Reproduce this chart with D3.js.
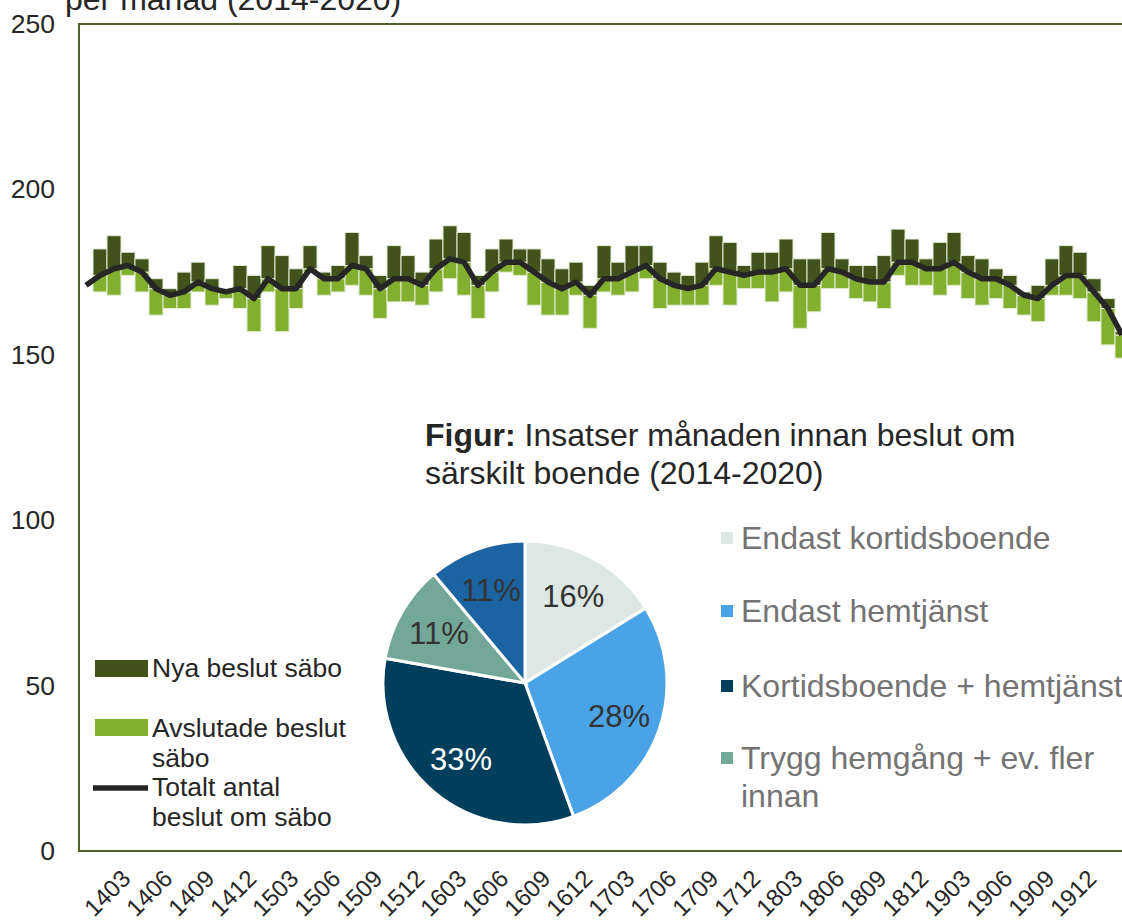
<!DOCTYPE html>
<html>
<head>
<meta charset="utf-8">
<script src="https://cdn.jsdelivr.net/npm/d3@7"></script>
<style>
  body { margin: 0; background: #fff; }
  svg { display: block; font-family: "Liberation Sans", Arial, sans-serif; }
</style>
</head>
<body>
<div id="chart"></div>
<script>
// months (yymm), first one only carries the line
const months = ["1312",
  "1401","1402","1403","1404","1405","1406","1407","1408","1409","1410","1411","1412",
  "1501","1502","1503","1504","1505","1506","1507","1508","1509","1510","1511","1512",
  "1601","1602","1603","1604","1605","1606","1607","1608","1609","1610","1611","1612",
  "1701","1702","1703","1704","1705","1706","1707","1708","1709","1710","1711","1712",
  "1801","1802","1803","1804","1805","1806","1807","1808","1809","1810","1811","1812",
  "1901","1902","1903","1904","1905","1906","1907","1908","1909","1910","1911","1912",
  "2001","2002"]

const tickLabels = ["1403","1406","1409","1412","1503","1506","1509","1512","1603","1606",
  "1609","1612","1703","1706","1709","1712","1803","1806","1809","1812","1903","1906","1909","1912"]

const totalt = [171,
  174,176,177,175,170,168,169,172,170,169,170,167,
  173,170,170,176,173,173,177,176,170,173,173,171,
  176,179,178,171,175,178,178,175,172,170,172,168,
  173,173,175,177,173,171,170,171,176,175,174,175,
  175,176,171,171,176,175,173,172,172,178,178,176,
  176,178,175,173,173,171,168,167,171,174,174,169,
  164,156]

const nyaBeslut = [0,
  8,10,4,4,3,2,6,6,3,1,7,7,
  10,10,6,7,2,4,10,4,4,10,7,4,
  9,10,9,3,7,7,4,7,7,6,6,3,
  10,5,8,6,5,4,4,7,10,9,3,6,
  6,9,8,8,11,4,4,5,8,10,7,3,
  8,9,5,6,3,3,1,4,8,9,7,4,
  3,1]

const avslutadeBeslut = [0,
  5,8,3,6,8,4,5,3,5,2,6,10,
  4,13,6,1,5,4,6,8,9,7,7,6,
  7,6,10,10,6,3,4,10,10,8,4,10,
  4,5,6,4,9,6,5,6,5,10,4,5,
  9,7,13,8,6,5,6,6,8,4,7,5,
  8,7,8,8,6,7,6,7,3,6,7,9,
  11,7]

const yTicks = [0, 50, 100, 150, 200, 250]

// pie
const pieLabels = ["Endast kortidsboende", "Endast hemtjänst", "Kortidsboende + hemtjänst",
  "Trygg hemgång + ev. fler innan", "Övrigt"]
const pieValues = [16, 28, 33, 11, 11]
const pieColors = ["#dde8e4", "#4aa3e6", "#003f5c", "#73a898", "#1c63a1"]

const W = 1122, H = 922
const plot = {left: 79, top: 24, bottom: 851}
const step = 14

const svg = d3.select("#chart").append("svg")
    .attr("width", W)
    .attr("height", H)

const x = d3.scaleBand()
    .domain(months)
    .range([plot.left, plot.left + step * months.length])
    .padding(0)

const y = d3.scaleLinear()
    .domain([0, 250])
    .range([plot.bottom, plot.top])

// title (first line falls outside the picture)
svg.append("text")
    .attr("x", 65)
    .attr("y", 10)
    .style("font-size", "32px")
    .attr("fill", "#262626")
    .text("per månad (2014-2020)")

// y axis labels
const yAxis = svg.append("g")
    .attr("transform", `translate(${plot.left},0)`)
    .call(d3.axisLeft(y).tickValues(yTicks).tickSize(0).tickPadding(24))
yAxis.select(".domain").remove()
yAxis.selectAll("text")
    .style("font-size", "26.5px")
    .style("font-family", "Liberation Sans, Arial, sans-serif")
    .attr("fill", "#262626")

// x axis labels
const xAxis = svg.append("g")
    .attr("transform", `translate(0,${plot.bottom})`)
    .call(d3.axisBottom(x).tickValues(tickLabels).tickSize(0))
xAxis.select(".domain").remove()
xAxis.selectAll("text")
    .attr("y", 0)
    .attr("dy", 0)
    .attr("text-anchor", "end")
    .attr("transform", "translate(4,29) rotate(-45)")
    .style("font-size", "24px")
    .style("font-family", "Liberation Sans, Arial, sans-serif")
    .attr("fill", "#262626")

const data = months.map((m, i) => ({
    month: m, total: totalt[i], nya: nyaBeslut[i], avsl: avslutadeBeslut[i]
})).filter(d => d.nya > 0 || d.avsl > 0)

// ended decisions (below the line)
svg.append("g").selectAll("rect")
    .data(data)
    .join("rect")
    .attr("x", d => x(d.month))
    .attr("width", x.bandwidth())
    .attr("y", d => y(d.total))
    .attr("height", d => y(d.total - d.avsl) - y(d.total))
    .attr("fill", "#82b02e")
    .attr("stroke", "#e3ecd6")
    .attr("stroke-width", 1)

// new decisions (above the line)
svg.append("g").selectAll("rect")
    .data(data)
    .join("rect")
    .attr("x", d => x(d.month))
    .attr("width", x.bandwidth())
    .attr("y", d => y(d.total + d.nya))
    .attr("height", d => y(d.total) - y(d.total + d.nya))
    .attr("fill", "#41521b")
    .attr("stroke", "#e3ecd6")
    .attr("stroke-width", 1)

// total line
svg.append("path")
    .datum(months.map((m, i) => ({month: m, total: totalt[i]})))
    .attr("fill", "none")
    .attr("stroke", "#262626")
    .attr("stroke-width", 5.5)
    .attr("stroke-linejoin", "round")
    .attr("d", d3.line()
        .x(d => x(d.month) + x.bandwidth() / 2)
        .y(d => y(d.total)))

// plot frame
svg.append("path")
    .attr("d", `M${W + 20},${plot.top}H${plot.left}V${plot.bottom}H${W + 20}`)
    .attr("fill", "none")
    .attr("stroke", "#4f6228")
    .attr("stroke-width", 2)

// legend for main chart
const leg = svg.append("g").style("font-size", "26.5px").attr("fill", "#262626")
leg.append("rect").attr("x", 95).attr("y", 660).attr("width", 53).attr("height", 17).attr("fill", "#41521b")
leg.append("text").attr("x", 152).attr("y", 677).text("Nya beslut säbo")
leg.append("rect").attr("x", 95).attr("y", 719).attr("width", 53).attr("height", 17).attr("fill", "#82b02e")
leg.append("text").attr("x", 152).attr("y", 737).text("Avslutade beslut")
leg.append("text").attr("x", 152).attr("y", 767).text("säbo")
leg.append("line").attr("x1", 93).attr("x2", 148).attr("y1", 788).attr("y2", 788)
    .attr("stroke", "#262626").attr("stroke-width", 5.5)
leg.append("text").attr("x", 152).attr("y", 796).text("Totalt antal")
leg.append("text").attr("x", 152).attr("y", 826).text("beslut om säbo")

// pie chart
const pieTitle = svg.append("text")
    .attr("x", 425)
    .attr("y", 446)
    .style("font-size", "32px")
    .attr("fill", "#262626")
pieTitle.append("tspan").style("font-weight", "bold").text("Figur:")
pieTitle.append("tspan").text(" Insatser månaden innan beslut om")
svg.append("text")
    .attr("x", 425)
    .attr("y", 484)
    .style("font-size", "32px")
    .attr("fill", "#262626")
    .text("särskilt boende (2014-2020)")

const r = 142
const pieG = svg.append("g").attr("transform", "translate(525,683)")
const arcs = d3.pie().sort(null)(pieValues)
const arc = d3.arc().innerRadius(0).outerRadius(r)
const labelArc = d3.arc().innerRadius(r * 0.7).outerRadius(r * 0.7)

pieG.selectAll("path")
    .data(arcs)
    .join("path")
    .attr("d", arc)
    .attr("fill", (d, i) => pieColors[i])
    .attr("stroke", "#fff")
    .attr("stroke-width", 3)

pieG.selectAll("text")
    .data(arcs)
    .join("text")
    .attr("transform", d => `translate(${labelArc.centroid(d)})`)
    .attr("text-anchor", "middle")
    .attr("dy", "0.36em")
    .style("font-size", "31px")
    .attr("fill", (d, i) => i === 2 ? "#ffffff" : "#333333")
    .text(d => d.data + "%")

// pie legend (first four entries)
const pieLegY = [538, 611, 686, 758]
const pleg = svg.append("g").style("font-size", "32px").attr("fill", "#737373")
pieLegY.forEach((ly, i) => {
    pleg.append("rect")
        .attr("x", 721).attr("y", ly - 6).attr("width", 12).attr("height", 12)
        .attr("fill", pieColors[i])
})
pleg.append("text").attr("x", 741).attr("y", 549).text(pieLabels[0])
pleg.append("text").attr("x", 741).attr("y", 622).text(pieLabels[1])
pleg.append("text").attr("x", 741).attr("y", 697).text(pieLabels[2])
pleg.append("text").attr("x", 741).attr("y", 769).text("Trygg hemgång + ev. fler")
pleg.append("text").attr("x", 741).attr("y", 807).text("innan")
</script>
</body>
</html>
